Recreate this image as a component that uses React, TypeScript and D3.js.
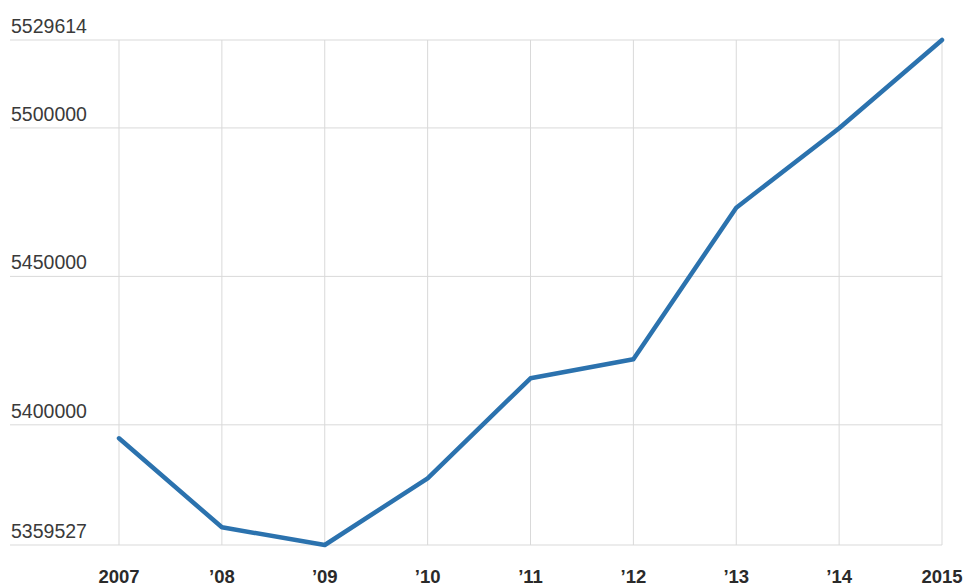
import React from "react";
import * as d3 from "d3";

const years = ["2007", "’08", "’09", "’10", "’11", "’12", "’13", "’14", "2015"];
const values = [5395467, 5365491, 5359527, 5381995, 5415675, 5422074, 5473133, 5499875, 5529614];
const yTicks = [5359527, 5400000, 5450000, 5500000, 5529614];

const W = 963;
const H = 588;

export default function App() {
  const x = d3.scalePoint<string>().domain(years).range([119, 942]);
  const y = d3.scaleLinear().domain([5359527, 5529614]).range([545, 40]);
  const line = d3
    .line<number>()
    .x((_, i) => x(years[i]) as number)
    .y((d) => y(d));

  return (
    <svg
      width={W}
      height={H}
      style={{ position: "absolute", left: 0, top: 0, background: "#fff" }}
      fontFamily="'Liberation Sans', Arial, Helvetica, sans-serif"
    >
      <g>
        {yTicks.map((t) => (
          <line key={"h" + t} x1={10} x2={942} y1={y(t)} y2={y(t)} stroke="#d9d9d9" strokeWidth={1} />
        ))}
        {years.map((yr) => (
          <line key={"v" + yr} x1={x(yr)} x2={x(yr)} y1={40} y2={545} stroke="#d9d9d9" strokeWidth={1} />
        ))}
      </g>
      <path d={line(values) || ""} fill="none" stroke="#2b72ae" strokeWidth={4.5} strokeLinejoin="round" strokeLinecap="round" />
      {yTicks.map((t) => (
        <text key={"yl" + t} x={11} y={y(t) - 7} fontSize={19.5} fill="#3a3a3a">
          {t}
        </text>
      ))}
      {years.map((yr) => (
        <text key={"xl" + yr} x={x(yr)} y={583} fontSize={18.5} fontWeight="bold" fill="#2a2a2a" textAnchor="middle">
          {yr}
        </text>
      ))}
    </svg>
  );
}
